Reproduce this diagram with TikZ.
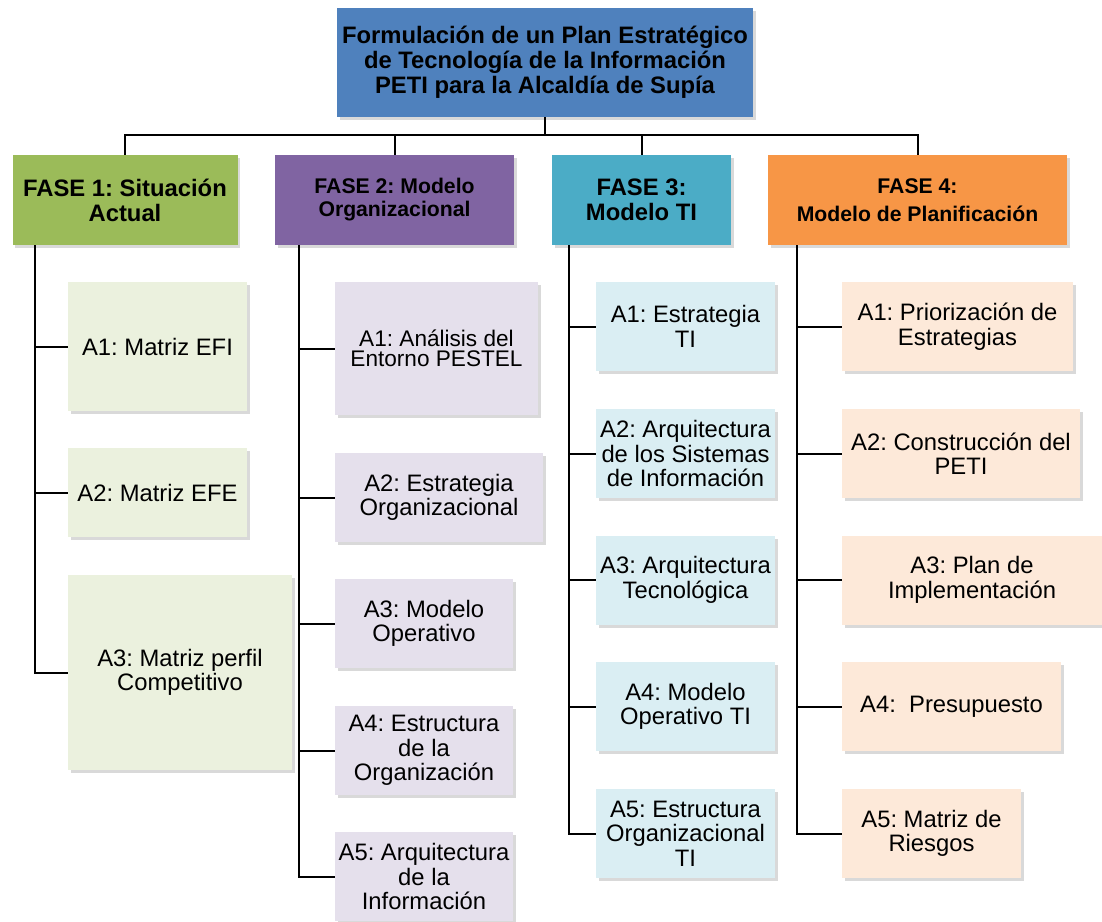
\documentclass[tikz,border=0pt]{standalone}
\usepackage{fontspec}
\setmainfont{Liberation Sans}
\usetikzlibrary{shadows}
\definecolor{topblue}{HTML}{4F81BD}
\definecolor{fgreen}{HTML}{9BBB59}
\definecolor{fpurple}{HTML}{8064A2}
\definecolor{fteal}{HTML}{4BACC6}
\definecolor{forange}{HTML}{F79646}
\definecolor{lgreen}{HTML}{EBF1DE}
\definecolor{lpurple}{HTML}{E5E0EC}
\definecolor{lteal}{HTML}{DAEEF3}
\definecolor{lorange}{HTML}{FDE9D9}
\frenchspacing
\begin{document}
\begin{tikzpicture}[x=1pt,y=-1pt,
    box/.style={rectangle,inner sep=0pt,align=center,
      drop shadow={shadow xshift=2.5pt,shadow yshift=-3pt,opacity=0.3}},
    head/.style={box,font=\bfseries\fontsize{23.8}{25}\selectfont,minimum height=90pt},
    small head/.style={head,font=\bfseries\fontsize{21.2}{23}\selectfont},
    task/.style={box,font=\fontsize{23.8}{24.5}\selectfont,minimum height=89pt},
    link/.style={line width=2pt}]
  \useasboundingbox (0,0) rectangle (1102,921);
  \node[head,fill=topblue,minimum width=416pt,minimum height=109pt] (top) at (545,62.5)
    {Formulación de un Plan Estratégico\\de Tecnología de la Información\\PETI para la Alcaldía de Supía};
  \node[head,fill=fgreen,minimum width=225pt] (f1) at (125,200) {FASE 1: Situación\\Actual};
  \node[small head,fill=fpurple,minimum width=239pt] (f2) at (394.5,200) {FASE 2: Modelo\\Organizacional};
  \node[head,fill=fteal,minimum width=179pt] (f3) at (641.5,200) {FASE 3:\\Modelo TI};
  \node[small head,fill=forange,minimum width=299pt] (f4) at (917.5,200) {FASE 4:\\[5pt]Modelo de Planificación};
  % fase 1
  \node[task,fill=lgreen,minimum width=179pt,minimum height=129pt] (a11) at (157.5,346.5) {A1: Matriz EFI};
  \node[task,fill=lgreen,minimum width=179pt] (a12) at (157.5,492.5) {A2: Matriz EFE};
  \node[task,fill=lgreen,minimum width=224pt,minimum height=195pt] (a13) at (180,672.5) {A3: Matriz perfil\\Competitivo};
  % fase 2
  \node[task,fill=lpurple,minimum width=203pt,minimum height=133pt,font=\fontsize{22.6}{20.5}\selectfont] (a21) at (436.5,348.5) {A1: Análisis del\\Entorno PESTEL};
  \node[task,fill=lpurple,minimum width=208pt] (a22) at (439,497.5) {A2: Estrategia\\Organizacional};
  \node[task,fill=lpurple,minimum width=178pt] (a23) at (424,623.5) {A3: Modelo\\Operativo};
  \node[task,fill=lpurple,minimum width=178pt] (a24) at (424,750.5) {A4: Estructura\\de la\\Organización};
  \node[task,fill=lpurple,minimum width=178pt] (a25) at (424,876.5) {A5: Arquitectura\\de la\\Información};
  % fase 3
  \node[task,fill=lteal,minimum width=179pt] (a31) at (685.5,326.5) {A1: Estrategia\\TI};
  \node[task,fill=lteal,minimum width=179pt] (a32) at (685.5,453.5) {A2: Arquitectura\\de los Sistemas\\de Información};
  \node[task,fill=lteal,minimum width=179pt] (a33) at (685.5,580) {A3: Arquitectura\\Tecnológica};
  \node[task,fill=lteal,minimum width=179pt] (a34) at (685.5,706.5) {A4: Modelo\\Operativo TI};
  \node[task,fill=lteal,minimum width=179pt] (a35) at (685.5,833.5) {A5: Estructura\\Organizacional\\TI};
  % fase 4
  \node[task,fill=lorange,minimum width=231pt] (a41) at (957.5,326.5) {A1: Priorización de\\Estrategias};
  \node[task,fill=lorange,minimum width=238pt] (a42) at (961,453.5) {A2: Construcción del\\PETI};
  \node[task,fill=lorange,minimum width=260pt] (a43) at (972,580) {A3: Plan de\\Implementación};
  \node[task,fill=lorange,minimum width=219pt] (a44) at (951.5,706.5) {A4:\ \ Presupuesto};
  \node[task,fill=lorange,minimum width=179pt] (a45) at (931.5,833.5) {A5: Matriz de\\Riesgos};
  % tree
  \coordinate (bar) at (0,135);
  \draw[link] (top.south) -- (top.south |- bar);
  \draw[link] (f1.north) -- (f1.north |- bar) -- (f4.north |- bar) -- (f4.north);
  \draw[link] (f2.north) -- (f2.north |- bar);
  \draw[link] (f3.north) -- (f3.north |- bar);
  \coordinate (s1) at (35,245);
  \coordinate (s2) at (299,245);
  \coordinate (s3) at (569,245);
  \coordinate (s4) at (797,245);
  \draw[link] (s1) |- (a13.west);
  \foreach \i in {1,2}
    \draw[link] (a1\i.west) -- (a1\i.west -| s1);
  \draw[link] (s2) |- (a25.west);
  \foreach \i in {1,...,4}
    \draw[link] (a2\i.west) -- (a2\i.west -| s2);
  \draw[link] (s3) |- (a35.west);
  \foreach \i in {1,...,4}
    \draw[link] (a3\i.west) -- (a3\i.west -| s3);
  \draw[link] (s4) |- (a45.west);
  \foreach \i in {1,...,4}
    \draw[link] (a4\i.west) -- (a4\i.west -| s4);
\end{tikzpicture}
\end{document}
